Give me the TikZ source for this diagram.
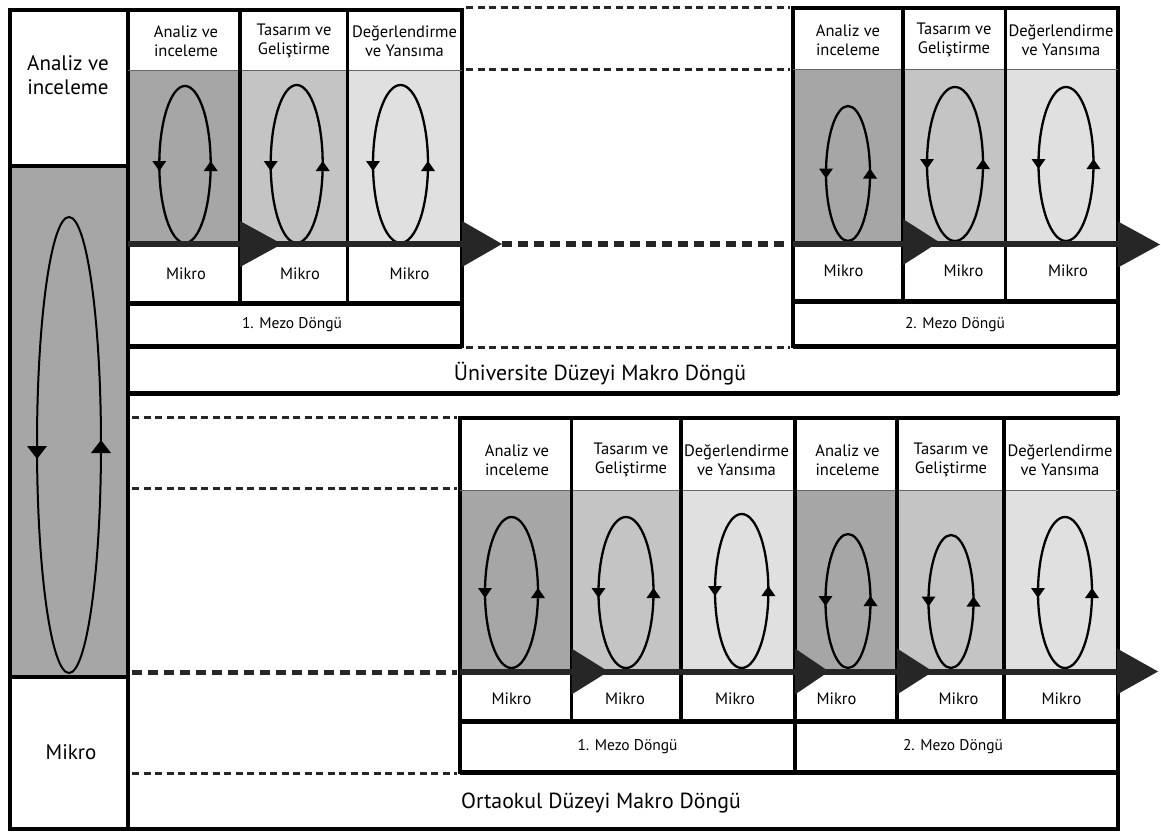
\documentclass[tikz,border=0pt]{standalone}
\usepackage{fontspec}
\setmainfont{PT Sans}
\usetikzlibrary{calc}

\definecolor{cellA}{HTML}{A6A6A6}
\definecolor{cellB}{HTML}{C4C4C4}
\definecolor{cellC}{HTML}{E0E0E0}
\definecolor{barInk}{HTML}{262626}

\tikzset{
  frame/.style={line width=4pt, line cap=rect},
  divider/.style={line width=3.2pt},
  thinrule/.style={line width=0.8pt, black!60},
  flowbar/.style={line width=6pt, barInk},
  rowrule/.style={line width=5pt},
  linkdash/.style={line width=3pt, dash pattern=on 7pt off 4.5pt, black!85},
  linkdashbold/.style={line width=5.5pt, dash pattern=on 10pt off 6pt, barInk},
  loopline/.style={line width=2.3pt},
  lbl/.style={font=\fontsize{16.5}{19.5}\selectfont, align=center, inner sep=0pt},
  lblmezo/.style={font=\fontsize{15.5}{19.5}\selectfont, align=center, inner sep=0pt},
  lblbig/.style={font=\fontsize{21}{24}\selectfont, align=center, inner sep=0pt},
  lblmakro/.style={font=\fontsize{21.8}{24}\selectfont, align=center, inner sep=0pt},
}

% micro cycle: centre x, top y, bottom y, half width, arrowhead y
\newcommand{\microloop}[5]{%
  \pgfmathsetmacro{\lcy}{(#2+#3)/2}
  \pgfmathsetmacro{\lry}{(#3-#2)/2}
  \draw[loopline] (#1,\lcy) ellipse [x radius=#4pt, y radius=\lry pt];
  \fill (#1-#4,#5+5) -- (#1-#4-7,#5-5) -- (#1-#4+7,#5-5) -- cycle;
  \fill (#1+#4,#5-5) -- (#1+#4-7,#5+5) -- (#1+#4+7,#5+5) -- cycle;
}
% flow arrowhead: base x, centre y, length
\newcommand{\flowhead}[3]{%
  \fill[barInk] (#1,#2-23) -- (#1+#3,#2) -- (#1,#2+23) -- cycle;
}

\begin{document}
\begin{tikzpicture}[x=1pt, y=-1pt]
\useasboundingbox (0,0) rectangle (1161,832);

% ---------- shaded phase cells ----------
\fill[cellA] (10,166) rectangle (128,677);
% university, first meso cycle
\fill[cellA] (128,70) rectangle (240,244);
\fill[cellB] (240,70) rectangle (347.5,244);
\fill[cellC] (347.5,70) rectangle (462,244);
% university, second meso cycle
\fill[cellA] (793,69) rectangle (903,243.5);
\fill[cellB] (903,69) rectangle (1005.5,243.5);
\fill[cellC] (1005.5,69) rectangle (1118,243.5);
% middle school, two meso cycles
\fill[cellA] (460,490) rectangle (571.5,671.5);
\fill[cellB] (571.5,490) rectangle (681,671.5);
\fill[cellC] (681,490) rectangle (795,671.5);
\fill[cellA] (795,490) rectangle (897,671.5);
\fill[cellB] (897,490) rectangle (1004,671.5);
\fill[cellC] (1004,490) rectangle (1118,671.5);

% ---------- cycles ----------
\draw[line width=2pt] (69,445) ellipse [x radius=32pt, y radius=228pt];
\fill (37,459) -- (27,446) -- (47,446) -- cycle;
\fill (101,440) -- (91,453) -- (111,453) -- cycle;

\microloop{185}{86}{243}{25.7}{166}
\microloop{296.7}{85}{243}{26}{166}
\microloop{400.5}{85}{243}{27.5}{166}

\microloop{848}{106}{241}{22}{173.5}
\microloop{955}{87}{241}{28}{164}
\microloop{1066}{87}{241}{27.5}{164}

\microloop{511.5}{517}{668}{26.5}{593}
\microloop{626}{517}{668}{27.5}{593}
\microloop{741.7}{514}{668}{26.7}{591}
\microloop{848}{534}{668}{22.5}{601}
\microloop{951}{535}{668}{22.5}{601.5}
\microloop{1065}{517}{668}{27}{593}

% ---------- grid ----------
% left column and outer frame
\draw[frame] (128,10) -- (10,10) -- (10,829) -- (1118,829);
\draw[frame] (128,10) -- (128,829);
\draw[frame] (10,166) -- (128,166);
\draw[frame] (10,677) -- (128,677);

% university, first meso cycle
\draw[frame] (128,10) -- (462,10) -- (462,346);
\draw[thinrule] (128,70) -- (462,70);
\draw[divider] (240,10) -- (240,303);
\draw[divider] (347.5,10) -- (347.5,303);
\draw[flowbar] (128,244) -- (462,244);
\draw[rowrule] (128,303) -- (462,303);
\draw[rowrule] (128,346) -- (462,346);

% university, second meso cycle
\draw[frame] (793,346) -- (793,8) -- (1118,8) -- (1118,393);
\draw[thinrule] (793,69) -- (1118,69);
\draw[divider] (903,8) -- (903,301);
\draw[divider] (1005.5,8) -- (1005.5,301);
\draw[flowbar] (793,243.5) -- (1118,243.5);
\draw[rowrule] (793,301) -- (1118,301);
\draw[rowrule] (793,346) -- (1118,346);

% university macro band
\draw[rowrule] (128,393) -- (1118,393);

% middle school block
\draw[frame] (460,772) -- (460,418) -- (1118,418) -- (1118,829);
\draw[thinrule] (460,490) -- (1118,490);
\foreach \dx in {571.5,681,897,1004}
  \draw[divider] (\dx,418) -- (\dx,721);
\draw[divider] (795,418) -- (795,772);
\draw[flowbar] (460,671.5) -- (1118,671.5);
\draw[rowrule] (460,721) -- (1118,721);
\draw[rowrule] (460,772) -- (1118,772);

% ---------- flow arrowheads ----------
\flowhead{240}{244}{42}
\flowhead{462}{244}{40}
\flowhead{903}{242}{36}
\flowhead{1118}{244.5}{42}
\flowhead{571.5}{671.5}{37}
\flowhead{795}{671.5}{34}
\flowhead{897}{671.5}{36}
\flowhead{1117}{671.5}{41}

% ---------- dashed links ----------
\coordinate (ua1) at (466,8);     \coordinate (ub1) at (790,8);
\coordinate (ua2) at (466,69.5);  \coordinate (ub2) at (790,69.5);
\coordinate (ua3) at (502,244);   \coordinate (ub3) at (789,244);
\coordinate (ua4) at (466,347);   \coordinate (ub4) at (790,347);
\draw[linkdash] (ua1) -- (ub1);
\draw[linkdash] (ua2) -- (ub2);
\draw[linkdashbold] (ua3) -- (ub3);
\draw[linkdash] (ua4) -- (ub4);

\coordinate (la1) at (132,417);   \coordinate (lb1) at (457,417);
\coordinate (la2) at (132,488.5); \coordinate (lb2) at (457,488.5);
\coordinate (la3) at (132,672.5); \coordinate (lb3) at (457,672.5);
\coordinate (la4) at (132,773.5); \coordinate (lb4) at (457,773.5);
\draw[linkdash] (la1) -- (lb1);
\draw[linkdash] (la2) -- (lb2);
\draw[linkdashbold] (la3) -- (lb3);
\draw[linkdash] (la4) -- (lb4);

% ---------- labels ----------
\node[lblbig] (lphase) at (68,75) {Analiz ve\\inceleme};
\node[lblbig] (lmikro) at (71,752) {Mikro};

\node[lbl] (uah1) at (186,41) {Analiz ve\\inceleme};
\node[lbl] (uah2) at (294,41) {Tasarım ve\\Geliştirme};
\node[lbl] (uah3) at (404.5,41) {Değerlendirme\\ve Yansıma};
\node[lbl] (uam1) at (186,273.5) {Mikro};
\node[lbl] (uam2) at (300,273.5) {Mikro};
\node[lbl] (uam3) at (409.5,273.5) {Mikro};
\node[lblmezo] (uamezo) at (292,325) {1. Mezo Döngü};

\node[lbl] (ubh1) at (848,40) {Analiz ve\\inceleme};
\node[lbl] (ubh2) at (954,40) {Tasarım ve\\Geliştirme};
\node[lbl] (ubh3) at (1061,40) {Değerlendirme\\ve Yansıma};
\node[lbl] (ubm1) at (843.5,271) {Mikro};
\node[lbl] (ubm2) at (963.5,271) {Mikro};
\node[lbl] (ubm3) at (1068,271) {Mikro};
\node[lblmezo] (ubmezo) at (955,325) {2. Mezo Döngü};

\node[lblmakro] (umakro) at (600,374) {Üniversite Düzeyi Makro Döngü};

\node[lbl] (oh1) at (517,460) {Analiz ve\\inceleme};
\node[lbl] (oh2) at (631,460) {Tasarım ve\\Geliştirme};
\node[lbl] (oh3) at (736.5,460) {Değerlendirme\\ve Yansıma};
\node[lbl] (oh4) at (847.5,460) {Analiz ve\\inceleme};
\node[lbl] (oh5) at (951,460) {Tasarım ve\\Geliştirme};
\node[lbl] (oh6) at (1060,460) {Değerlendirme\\ve Yansıma};
\node[lbl] (om1) at (511.5,698.5) {Mikro};
\node[lbl] (om2) at (625,698.5) {Mikro};
\node[lbl] (om3) at (735,698.5) {Mikro};
\node[lbl] (om4) at (836.5,698.5) {Mikro};
\node[lbl] (om5) at (958.5,698.5) {Mikro};
\node[lbl] (om6) at (1061.5,698.5) {Mikro};
\node[lblmezo] (omezo1) at (627.5,747) {1. Mezo Döngü};
\node[lblmezo] (omezo2) at (953,747) {2. Mezo Döngü};

\node[lblmakro] (omakro) at (601,803.5) {Ortaokul Düzeyi Makro Döngü};
\end{tikzpicture}
\end{document}
